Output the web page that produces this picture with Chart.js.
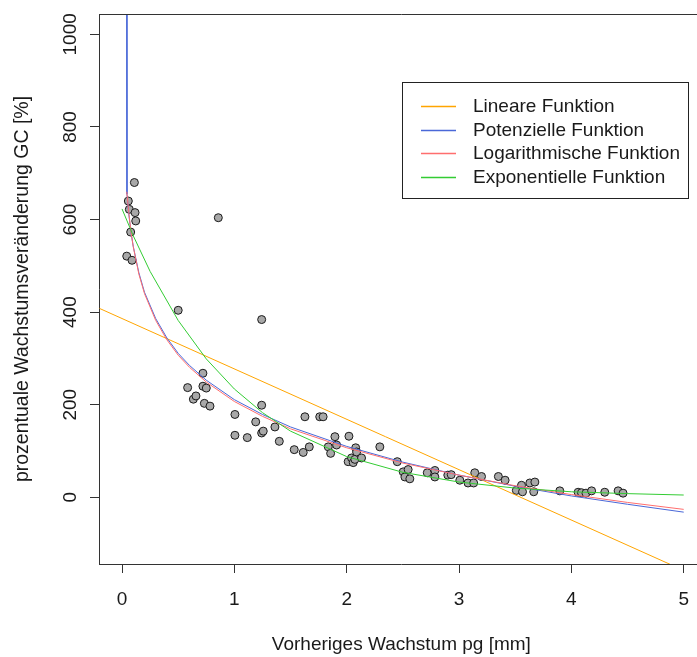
<!DOCTYPE html>
<html>
<head>
<meta charset="utf-8">
<script src="https://cdn.jsdelivr.net/npm/chart.js@4/dist/chart.umd.min.js"></script>
<style>
  html, body { margin: 0; padding: 0; background: #fff; overflow: hidden; width: 697px; height: 657px; }
  #c { display: block; }
</style>
</head>
<body>
<canvas id="c" width="704" height="657"></canvas>
<script>
// Axis ticks
const xTicks = [0, 1, 2, 3, 4, 5];
const yTicks = [0, 200, 400, 600, 800, 1000];

// Observations: previous growth pg [mm] vs. growth change GC [%]
const pgX = [0.042, 0.056, 0.065, 0.077, 0.089, 0.110, 0.116, 0.122, 0.50, 0.584,
  0.635, 0.658, 0.72, 0.72, 0.75, 0.733, 0.783, 0.857, 1.005, 1.005,
  1.115, 1.19, 1.243, 1.243, 1.243, 1.257, 1.361, 1.40, 1.533, 1.613,
  1.628, 1.667, 1.76, 1.79, 1.836, 1.857, 1.895, 1.91, 2.02, 2.013,
  2.043, 2.058, 2.073, 2.08, 2.088, 2.132, 2.295, 2.45, 2.503, 2.518,
  2.547, 2.562, 2.717, 2.785, 2.785, 2.90, 2.93, 3.007, 3.08, 3.13,
  3.14, 3.20, 3.35, 3.41, 3.51, 3.556, 3.565, 3.63, 3.675, 3.665,
  3.897, 4.06, 4.09, 4.13, 4.18, 4.297, 4.416, 4.46];
const gcY = [521, 640, 622, 573, 512, 680, 615, 597, 404, 237,
  212, 219, 268, 240, 236, 203, 197, 604, 179, 134,
  129, 163, 384, 199, 139, 143, 152, 121, 103, 97,
  174, 109, 174, 174, 109, 95, 131, 113, 132, 77,
  85, 75, 82, 107, 98, 85, 109, 77, 55, 44,
  60, 40, 53, 58, 44, 48, 49, 37, 31, 31,
  53, 45, 45, 37, 15, 26, 12, 31, 33, 12,
  14, 11, 10, 9, 14, 11, 14, 9];

// Fitted curves
const linX = [-0.2, 4.9];
const linY = [408, -147];

const potX = [0.04, 0.044, 0.06, 0.08, 0.1, 0.15, 0.2, 0.3, 0.4, 0.5, 0.6, 0.75, 1.0, 1.25, 1.5, 2, 2.5, 3, 3.5, 4, 4.5, 5];
const potY = [1400, 655, 612, 572, 542, 485, 443, 386, 344, 311, 285, 253, 211, 179, 152, 110, 76, 48, 24, 3, -15, -32];

const logX = [0.042, 0.06, 0.08, 0.1, 0.15, 0.2, 0.3, 0.4, 0.5, 0.6, 0.75, 1.0, 1.25, 1.5, 2, 2.5, 3, 3.5, 4, 4.5, 5];
const logY = [660, 615, 573, 541, 482, 440, 382, 340, 307, 281, 249, 207, 175, 148, 107, 74, 48, 25, 6, -11, -26];

const expX = [0, 0.1, 0.25, 0.5, 0.75, 1, 1.25, 1.5, 2, 2.5, 3, 3.5, 4, 4.5, 5];
const expY = [623, 565, 488, 382, 299, 234, 183, 143, 88, 54, 33, 20, 12, 8, 5];

const curveNames = ['Lineare Funktion', 'Potenzielle Funktion', 'Logarithmische Funktion', 'Exponentielle Funktion'];
const curveColors = ['#FFA500', '#4A68D8', '#FF6E6E', '#33CC33'];

const pairs = (xs, ys) => xs.map((x, i) => ({ x: x, y: ys[i] }));

const FONT = '"Liberation Sans", Arial, sans-serif';
const FSIZE = 19;
const TEXT = '#1a1a1a';
const AXIS = '#333333';

function curve(i, xs, ys, order) {
  return {
    type: 'scatter', label: curveNames[i], data: pairs(xs, ys), showLine: true,
    borderColor: curveColors[i], backgroundColor: curveColors[i], borderWidth: 1,
    pointRadius: 0, tension: 0, order: order
  };
}

const datasets = [
  curve(0, linX, linY, 4),
  curve(1, potX, potY, 3),
  curve(2, logX, logY, 2),
  curve(3, expX, expY, 1),
  {
    type: 'scatter', label: 'GC', data: pairs(pgX, gcY),
    pointRadius: 4, pointBorderWidth: 1,
    pointBackgroundColor: '#A8A8A8', pointBorderColor: '#1a1a1a',
    order: 5
  }
];

// Frame top edge, rotated y tick labels and the in-plot legend
const decor = {
  id: 'decor',
  afterDraw(chart) {
    const ctx = chart.ctx;
    const a = chart.chartArea;
    const ys = chart.scales.y;
    ctx.save();
    ctx.strokeStyle = AXIS;
    ctx.lineWidth = 1;
    ctx.beginPath();
    ctx.moveTo(a.left, a.top + 0.5);
    ctx.lineTo(a.right, a.top + 0.5);
    ctx.stroke();

    ctx.fillStyle = TEXT;
    ctx.font = FSIZE + 'px ' + FONT;
    ctx.textAlign = 'center';
    ctx.textBaseline = 'middle';
    ys.ticks.forEach(t => {
      const py = ys.getPixelForValue(t.value);
      ctx.save();
      ctx.translate(71, py);
      ctx.rotate(-Math.PI / 2);
      ctx.fillText(String(t.value), 0, 0);
      ctx.restore();
    });

    // legend
    const box = { l: 402, t: 82, r: 688, b: 198 };
    ctx.fillStyle = '#fff';
    ctx.fillRect(box.l, box.t, box.r - box.l, box.b - box.t);
    ctx.strokeStyle = '#222';
    ctx.strokeRect(box.l + 0.5, box.t + 0.5, box.r - box.l, box.b - box.t);
    ctx.textAlign = 'left';
    curveNames.forEach((name, i) => {
      const cy = 106 + i * 23.5;
      ctx.strokeStyle = curveColors[i];
      ctx.lineWidth = 1.5;
      ctx.beginPath();
      ctx.moveTo(421, Math.round(cy) + 0.5);
      ctx.lineTo(456, Math.round(cy) + 0.5);
      ctx.stroke();
      ctx.fillStyle = TEXT;
      ctx.fillText(name, 473, cy + 1);
    });
    ctx.restore();
  }
};

new Chart(document.getElementById('c'), {
  type: 'scatter',
  data: { datasets: datasets },
  options: {
    responsive: false,
    animation: false,
    layout: { autoPadding: false, padding: { left: 0, top: 14, right: 0, bottom: 0 } },
    plugins: { legend: { display: false }, tooltip: { enabled: false } },
    scales: {
      x: {
        type: 'linear', min: -0.205, max: 5.178,
        afterBuildTicks: s => { s.ticks = xTicks.map(v => ({ value: v })); },
        afterFit: s => { s.height = 93; },
        ticks: { color: TEXT, font: { family: FONT, size: FSIZE }, padding: 15,
                 maxRotation: 0, callback: v => String(v) },
        grid: { drawOnChartArea: false, drawTicks: true, tickLength: 9, color: AXIS },
        border: { display: true, color: AXIS, width: 1 },
        title: { display: true, text: 'Vorheriges Wachstum pg [mm]', color: TEXT,
                 font: { family: FONT, size: FSIZE }, padding: { top: 0, bottom: 1 } }
      },
      y: {
        type: 'linear', min: -144, max: 1044,
        afterBuildTicks: s => { s.ticks = yTicks.map(v => ({ value: v })); },
        afterFit: s => { s.width = 99; },
        ticks: { display: false },
        grid: { drawOnChartArea: false, drawTicks: true, tickLength: 9, color: AXIS },
        border: { display: true, color: AXIS, width: 1 },
        title: { display: true, text: 'prozentuale Wachstumsveränderung GC [%]', color: TEXT,
                 font: { family: FONT, size: 19.5 }, padding: { top: 11, bottom: 0 } }
      }
    }
  },
  plugins: [decor]
});
</script>
</body>
</html>
